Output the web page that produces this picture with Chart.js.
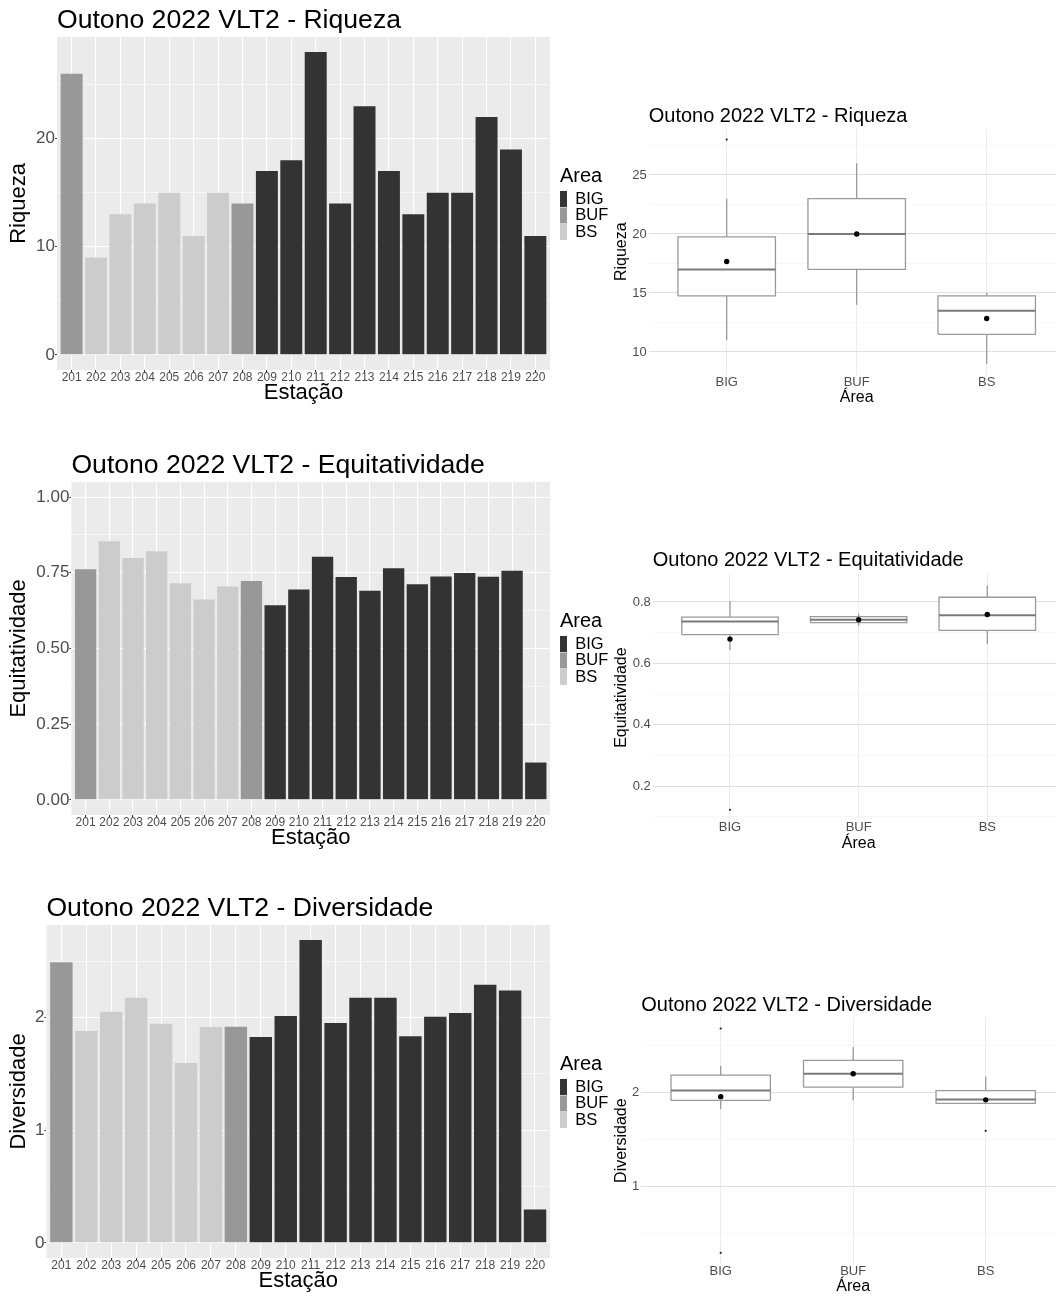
<!DOCTYPE html>
<html><head><meta charset="utf-8">
<script src="https://cdn.jsdelivr.net/npm/chart.js@4.4.1/dist/chart.umd.min.js"></script>
<style>
html,body{margin:0;padding:0;background:#fff;overflow:hidden;width:1056px;height:1298px;position:relative;}
canvas{position:absolute;}
</style></head><body>
<canvas id="bar1" width="610" height="410" style="left:0px;top:0px"></canvas>
<canvas id="bar2" width="610" height="410" style="left:0px;top:445px"></canvas>
<canvas id="bar3" width="610" height="410" style="left:0px;top:888px"></canvas>
<canvas id="bp1" width="470" height="309" style="left:600px;top:100px"></canvas>
<canvas id="bp2" width="470" height="310" style="left:600px;top:545px"></canvas>
<canvas id="bp3" width="470" height="309" style="left:600px;top:990px"></canvas>
<script>
// ---------------- DATA ----------------
const stations = ['201','202','203','204','205','206','207','208','209','210','211','212','213','214','215','216','217','218','219','220'];
const areas = ['BUF','BS','BS','BS','BS','BS','BS','BUF','BIG','BIG','BIG','BIG','BIG','BIG','BIG','BIG','BIG','BIG','BIG','BIG'];
const legendAreas = ['BIG','BUF','BS'];
const riqueza = [26,9,13,14,15,11,15,14,17,18,28,14,23,17,13,15,15,22,19,11];
const equitatividade = [0.762,0.854,0.799,0.821,0.715,0.662,0.705,0.723,0.643,0.695,0.803,0.736,0.691,0.765,0.712,0.738,0.749,0.737,0.757,0.123];
const diversidade = [2.49,1.879,2.05,2.174,1.944,1.596,1.915,1.918,1.826,2.012,2.686,1.95,2.174,2.174,1.832,2.006,2.038,2.289,2.239,0.297];

// tick values / labels
const riqBarTicks = [0,10,20];       const riqBarMinor = [5,15,25];
const riqBarLabels = ['0','10','20'];
const eqBarTicks = [0,0.25,0.5,0.75,1];  const eqBarMinor = [0.125,0.375,0.625,0.875];
const eqBarLabels = ['0.00','0.25','0.50','0.75','1.00'];
const divBarTicks = [0,1,2];         const divBarMinor = [0.5,1.5,2.5];
const divBarLabels = ['0','1','2'];
const riqBoxTicks = [10,15,20,25];   const riqBoxMinor = [12.5,17.5,22.5,27.5];
const riqBoxLabels = ['10','15','20','25'];
const eqBoxTicks = [0.2,0.4,0.6,0.8]; const eqBoxMinor = [0.1,0.3,0.5,0.7];
const eqBoxLabels = ['0.2','0.4','0.6','0.8'];
const divBoxTicks = [1,2];           const divBoxMinor = [0.5,1.5,2.5];
const divBoxLabels = ['1','2'];

// ---------------- STYLE ----------------
const COLORS = {BIG:'#333333', BUF:'#989898', BS:'#cccccc'};
Chart.defaults.font.family = '"Liberation Sans", Arial, Helvetica, sans-serif';
Chart.defaults.color = '#4d4d4d';

function expand(lo, hi){ const r = hi - lo; return [lo - 0.05*r, hi + 0.05*r]; }

const panelBg = {
  id: 'panelBg',
  beforeDraw(chart, args, opts){
    if (!opts || !opts.color) return;
    const {ctx, chartArea:a} = chart;
    ctx.save(); ctx.fillStyle = opts.color;
    ctx.fillRect(a.left, a.top, a.right - a.left, a.bottom - a.top);
    ctx.restore();
  }
};

function makeBar(id, c){
  const majorSet = new Set(c.majors);
  const allTicks = [...c.majors, ...c.minors].sort((a,b)=>a-b);
  new Chart(document.getElementById(id), {
    type: 'bar',
    data: { datasets: [{
      data: c.values.map((v,i)=>({x:i, y:v})),
      backgroundColor: areas.map(a=>COLORS[a]),
      borderWidth: 0, barPercentage: 0.9, categoryPercentage: 1
    }]},
    options: {
      responsive:false, animation:false, events:[],
      layout:{padding:0},
      plugins:{
        panelBg:{color:'#ebebeb'},
        tooltip:{enabled:false},
        title:{display:true, text:c.title, align:'start', fullSize:false, color:'#000',
               font:{size:26.6, weight:'normal'}, padding:{top:5, bottom:0}},
        legend:{display:true, position:'right', align:'center', fullSize:false, maxWidth:50,
          title:{display:true, text:'Area', position:'start', color:'#000', font:{size:20, weight:'normal'}, padding:0},
          labels:{boxWidth:7, boxHeight:16, padding:0, color:'#000', font:{size:16.5},
            generateLabels: () => legendAreas.map(a=>({text:a, fillStyle:COLORS[a], strokeStyle:COLORS[a], lineWidth:0, hidden:false, datasetIndex:0}))}
        }
      },
      scales:{
        x:{type:'linear', min:-0.6, max:stations.length-0.4, offset:false,
           afterBuildTicks: s => { s.ticks = stations.map((_,i)=>({value:i})); },
           ticks:{callback:(v)=>stations[v], color:'#4d4d4d', font:{size:12, lineHeight:1}, padding:0, maxRotation:0, autoSkip:false},
           grid:{color:'#ffffff', lineWidth:1.1, offset:false, drawTicks:true, tickLength:2, tickColor:'#333333'},
           border:{display:false},
           title:{display:true, text:'Estação', color:'#000', font:{size:22}, padding:{top:0, bottom:3.8}},
           afterFit: s => { s.height = 40; }},
        y:{type:'linear', min:c.limits[0], max:c.limits[1],
           afterBuildTicks: s => { s.ticks = allTicks.map(v=>({value:v})); },
           ticks:{callback:(v)=> majorSet.has(v) ? c.labels[c.majors.indexOf(v)] : '', color:'#4d4d4d', font:{size:17}, padding:0},
           grid:{color:'#ffffff', lineWidth: x => majorSet.has(x.tick.value) ? 1.1 : 0.55,
                 drawTicks:true, tickLength:2, tickColor: x => majorSet.has(x.tick.value) ? '#333333' : 'rgba(0,0,0,0)'},
           border:{display:false},
           title:{display:true, text:c.yTitle, color:'#000', font:{size:22}, padding:{top:6, bottom:0}},
           afterFit: s => { s.width = c.yWidth; }},
        spacer:{type:'linear', position:'right', display:true, grid:{display:false}, ticks:{display:false},
           border:{display:false}, afterFit: s => { s.width = 10; }}
      }
    },
    plugins:[panelBg]
  });
}

function quantile7(s, p){
  const h = (s.length - 1) * p; const lo = Math.floor(h);
  const hi = Math.min(lo + 1, s.length - 1);
  return s[lo] + (h - lo) * (s[hi] - s[lo]);
}
function boxStats(vals){
  const s = [...vals].sort((a,b)=>a-b);
  const q1 = quantile7(s,0.25), med = quantile7(s,0.5), q3 = quantile7(s,0.75);
  const iqr = q3 - q1, lo = q1 - 1.5*iqr, hi = q3 + 1.5*iqr;
  const inside = s.filter(v=>v>=lo && v<=hi);
  return {q1, med, q3, wlo:inside[0], whi:inside[inside.length-1],
          out:s.filter(v=>v<lo || v>hi), mean:s.reduce((a,b)=>a+b,0)/s.length};
}

function makeBox(id, c){
  const majorSet = new Set(c.majors);
  const allTicks = [...c.majors, ...c.minors].sort((a,b)=>a-b);
  const w = 0.375;
  const ds = [];
  const line = (pts, color, width, order, extra) => Object.assign({
    type:'scatter', showLine:true, data: pts.map(([x,y])=>({x,y})), borderColor:color, borderWidth:width,
    pointRadius:0, fill:false, tension:0, order
  }, extra || {});
  const means = [], outs = [];
  legendAreas.forEach((a, i) => {
    const st = boxStats(c.values.filter((_,k)=>areas[k]===a));
    ds.push(line([[i,st.q3],[i,st.whi]], '#9a9a9a', 1.3, 5));
    ds.push(line([[i,st.q1],[i,st.wlo]], '#9a9a9a', 1.3, 5));
    ds.push(line([[i-w,st.q1],[i+w,st.q1],[i+w,st.q3],[i-w,st.q3],[i-w,st.q1]], '#9a9a9a', 1.3, 4,
                 {fill:'shape', backgroundColor:'#ffffff'}));
    ds.push(line([[i-w,st.med],[i+w,st.med]], '#7a7a7a', 2, 3));
    st.out.forEach(v => outs.push({x:i, y:v}));
    means.push({x:i, y:st.mean});
  });
  ds.push({type:'scatter', data:outs, pointRadius:1.1, pointBackgroundColor:'#222', pointBorderWidth:0, order:2});
  ds.push({type:'scatter', data:means, pointRadius:2.7, pointBackgroundColor:'#000', pointBorderWidth:0, order:1});
  const lim = expand(Math.min(...c.values), Math.max(...c.values));
  new Chart(document.getElementById(id), {
    type:'scatter',
    data:{datasets: ds},
    options:{
      responsive:false, animation:false, events:[],
      layout:{padding:{left:0, top:0, right:c.padRight, bottom:0}},
      plugins:{
        tooltip:{enabled:false}, legend:{display:false},
        title:{display:true, text:c.title, align:'start', fullSize:false, color:'#000',
               font:{size:20, weight:'normal'}, padding:c.titlePad}
      },
      scales:{
        x:{type:'linear', min:-0.6, max:2.6, offset:false,
           afterBuildTicks: s => { s.ticks = legendAreas.map((_,i)=>({value:i})); },
           ticks:{callback:(v)=>legendAreas[v], color:'#4d4d4d', font:{size:13}, padding:c.xTickPad, maxRotation:0, autoSkip:false},
           grid:{color:'#ececec', lineWidth:1, drawTicks:false},
           border:{display:false},
           title:{display:true, text:'Área', color:'#000', font:{size:16}, padding:{top:0, bottom:c.xTitlePad}},
           afterFit: s => { s.height = c.xHeight; }},
        y:{type:'linear', min:lim[0], max:lim[1],
           afterBuildTicks: s => { s.ticks = allTicks.filter(v=>v>=lim[0] && v<=lim[1]).map(v=>({value:v})); },
           ticks:{callback:(v)=> majorSet.has(v) ? c.labels[c.majors.indexOf(v)] : '', color:'#4d4d4d', font:{size:13}, padding:2},
           grid:{color: x => majorSet.has(x.tick.value) ? '#e0e0e0' : '#f1f1f1',
                 lineWidth: x => majorSet.has(x.tick.value) ? 1.1 : 0.6, drawTicks:false},
           border:{display:false},
           title:{display:true, text:c.yTitle, color:'#000', font:{size:16}, padding:{top:12.1, bottom:0}},
           afterFit: s => { s.width = c.yWidth; }}
      }
    }
  });
}

makeBar('bar1', {title:'Outono 2022 VLT2 - Riqueza', yTitle:'Riqueza', values:riqueza,
  limits:expand(0, Math.max(...riqueza)), majors:riqBarTicks, minors:riqBarMinor, labels:riqBarLabels, yWidth:57});
makeBar('bar2', {title:'Outono 2022 VLT2 - Equitatividade', yTitle:'Equitatividade', values:equitatividade,
  limits:expand(0, 1), majors:eqBarTicks, minors:eqBarMinor, labels:eqBarLabels, yWidth:71.4});
makeBar('bar3', {title:'Outono 2022 VLT2 - Diversidade', yTitle:'Diversidade', values:diversidade,
  limits:expand(0, Math.max(...diversidade)), majors:divBarTicks, minors:divBarMinor, labels:divBarLabels, yWidth:46.4});

makeBox('bp1', {title:'Outono 2022 VLT2 - Riqueza', yTitle:'Riqueza', values:riqueza,
  majors:riqBoxTicks, minors:riqBoxMinor, labels:riqBoxLabels, yWidth:48.7, padRight:5.3,
  titlePad:{top:4.3, bottom:0.1}, xHeight:34, xTitlePad:1.7, xTickPad:-0.1});
makeBox('bp2', {title:'Outono 2022 VLT2 - Equitatividade', yTitle:'Equitatividade', values:equitatividade,
  majors:eqBoxTicks, minors:eqBoxMinor, labels:eqBoxLabels, yWidth:52.8, padRight:5.5,
  titlePad:{top:3.7, bottom:1.5}, xHeight:34, xTitlePad:1.9, xTickPad:-1.1});
makeBox('bp3', {title:'Outono 2022 VLT2 - Diversidade', yTitle:'Diversidade', values:diversidade,
  majors:divBoxTicks, minors:divBoxMinor, labels:divBoxLabels, yWidth:41.2, padRight:4.8,
  titlePad:{top:3, bottom:0.3}, xHeight:35, xTitlePad:2.7, xTickPad:-0.1});
</script>
</body></html>
